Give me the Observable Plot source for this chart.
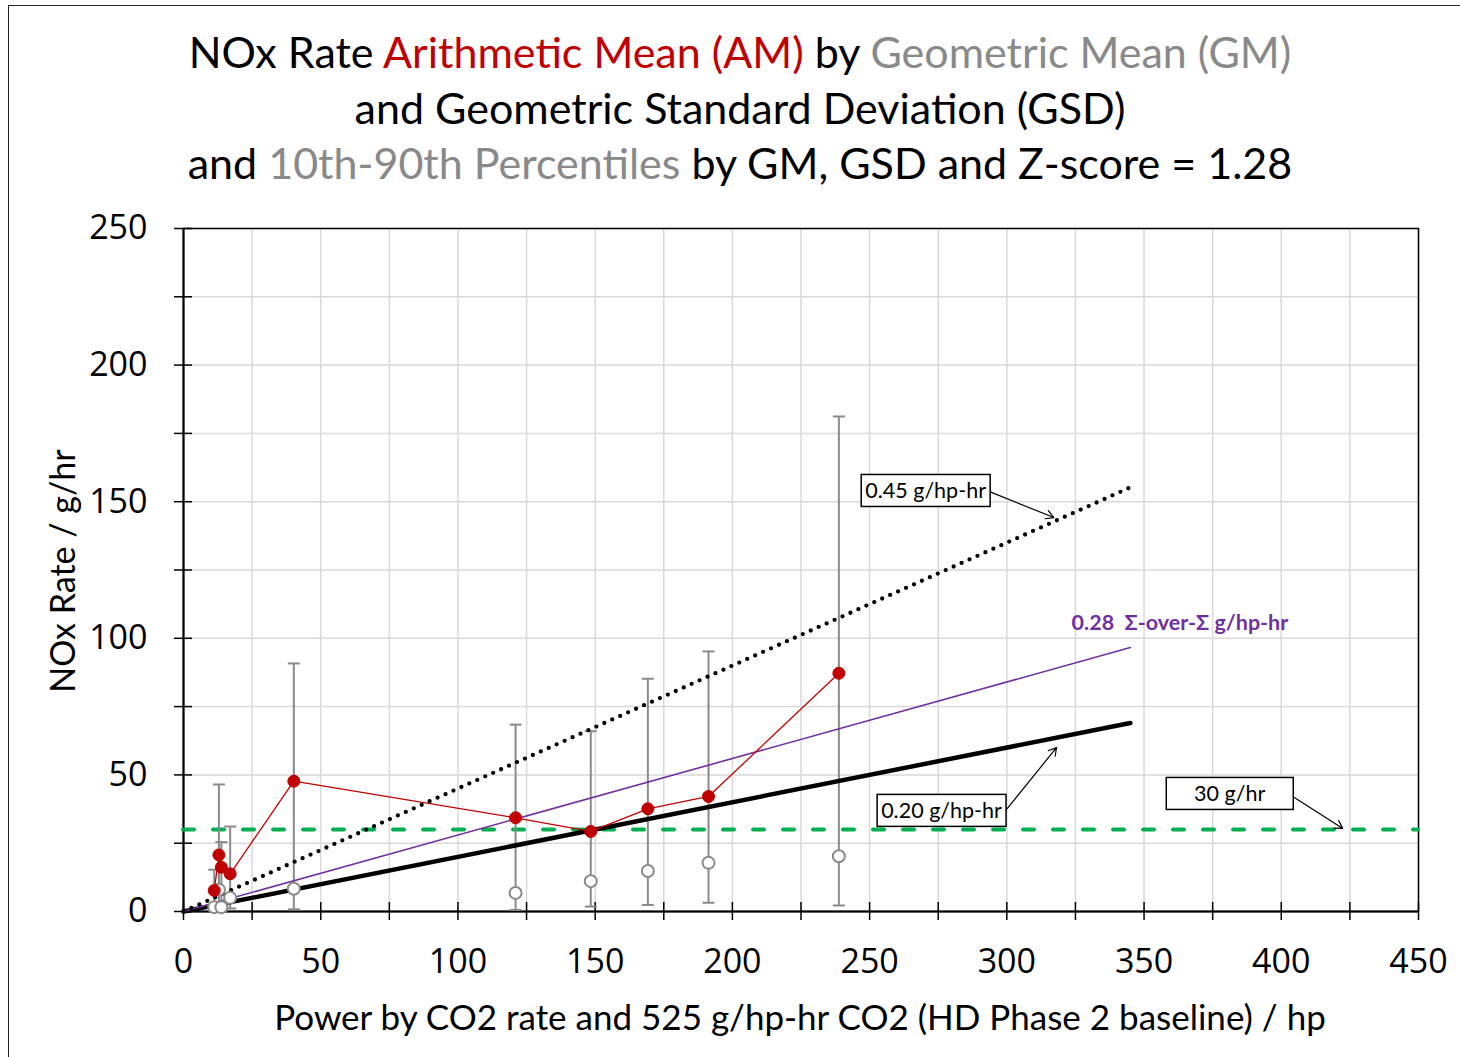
<!DOCTYPE html>
<html>
<head>
<meta charset="utf-8">
<script src="https://cdn.jsdelivr.net/npm/d3@7"></script>
<script src="https://cdn.jsdelivr.net/npm/@observablehq/plot@0.6"></script>
<style>
  html, body { margin: 0; padding: 0; background: #fff; }
  #page { position: relative; width: 1460px; height: 1057px; overflow: hidden; font-family: Lato, "Open Sans", sans-serif; }
  #border { position: absolute; left: 8px; top: 5px; width: 1470px; height: 1070px; border-left: 1.5px solid #222; border-top: 1.5px solid #222; }
  #title { position: absolute; left: 0; top: 24px; width: 1480px; text-align: center; font-size: 43px; line-height: 55.5px; color: #000; }
  #chart { position: absolute; left: 0; top: 190px; }
  #xlabel { position: absolute; left: 0; width: 1600px; top: 995px; text-align: center; font-size: 35px; line-height: 42px; }
  #ylabel { position: absolute; left: 62px; top: 571px; transform: translate(-50%, -50%) rotate(-90deg); font-size: 34px; white-space: nowrap; line-height: 42px; }
  .red { color: #C00000; }
  .gray { color: #898989; }
</style>
</head>
<body>
<div id="page">
  <div id="border"></div>
  <div id="title">
    <div>NOx Rate <span class="red">Arithmetic Mean (AM)</span> by <span class="gray">Geometric Mean (GM)</span></div>
    <div>and Geometric Standard Deviation (GSD)</div>
    <div>and <span class="gray">10th-90th Percentiles</span> by GM, GSD and Z-score = 1.28</div>
  </div>
  <div id="chart"></div>
  <div id="xlabel">Power by CO2 rate and 525 g/hp-hr CO2 (HD Phase 2 baseline) / hp</div>
  <div id="ylabel">NOx Rate / g/hr</div>
</div>
<script>
// ---- data ----
const powerHp   = [11.2, 12.9, 13.8, 17.0, 40.2, 121.0, 148.4, 169.2, 191.3, 238.8];
const amRate    = [7.7, 20.7, 16.2, 13.8, 47.7, 34.3, 29.3, 37.6, 42.1, 87.2];
const gmRate    = [1.6, 8.0, 1.6, 5.0, 8.3, 6.8, 11.1, 14.8, 17.8, 20.2];
const p10Rate   = [0.3, 0.4, 0.3, 1.1, 0.8, 0.6, 1.8, 2.4, 3.2, 2.2];
const p90Rate   = [15.3, 46.5, 25.4, 31.1, 90.8, 68.4, 66.0, 85.2, 95.2, 181.2];

const standardRates = [0.45, 0.28, 0.20];   // g/hp-hr
const standardEndHp = 345;                    // lines drawn from 0 to this power
const flatLimit = 30;                         // g/hr

const xTicksMajor = [0, 50, 100, 150, 200, 250, 300, 350, 400, 450];
const yTicksMajor = [0, 50, 100, 150, 200, 250];
const xTicksMinor = d3.range(0, 451, 25);
const yTicksMinor = d3.range(0, 251, 25);

// annotation boxes: label, box centre (data units), arrow start/end (data units)
const annoText   = ["0.45 g/hp-hr", "0.20 g/hp-hr", "30 g/hr"];
const annoX      = [270.4, 276.2, 381.2];
const annoY      = [153.7, 36.6, 42.8];
const arrowX1    = [293.7, 299.6, 404.2];
const arrowY1    = [153.7, 37.0, 42.1];
const arrowX2    = [317.1, 318.1, 422.4];
const arrowY2    = [144.2, 60.0, 30.4];
const purpleLabel = "0.28  Σ-over-Σ g/hp-hr";
const purpleLabelX = 323.6, purpleLabelY = 105.4;

// ---- tables ----
const points = powerHp.map((hp, i) => ({hp, am: amRate[i], gm: gmRate[i], p10: p10Rate[i], p90: p90Rate[i]}));
const lineFor = r => [0, standardEndHp].map(hp => ({hp, y: r * hp}));
const annos = annoText.map((t, i) => ({t, x: annoX[i], y: annoY[i], x1: arrowX1[i], y1: arrowY1[i], x2: arrowX2[i], y2: arrowY2[i]}));

const cap = { draw(ctx, size) { const r = Math.sqrt(size / Math.PI); ctx.moveTo(-r, 0); ctx.lineTo(r, 0); } };

const grid = "#d9d9d9";
const plot = Plot.plot({
  width: 1460,
  height: 867,
  marginLeft: 183,
  marginRight: 42,
  marginTop: 38,
  marginBottom: 146,
  style: { fontFamily: "'Open Sans', sans-serif", background: "transparent", overflow: "visible" },
  x: { domain: [0, 450] },
  y: { domain: [0, 250] },
  marks: [
    Plot.gridX(xTicksMinor, { stroke: grid, strokeOpacity: 1, strokeWidth: 1.5 }),
    Plot.gridY(yTicksMinor, { stroke: grid, strokeOpacity: 1, strokeWidth: 1.5 }),
    Plot.frame({ stroke: "#000", strokeWidth: 1.5 }),
    Plot.ruleY([0], { stroke: "#000", strokeWidth: 2 }),
    Plot.ruleX([0], { stroke: "#000", strokeWidth: 2 }),
    Plot.axisX({ ticks: xTicksMinor, tickSize: 18, dy: -9, tickFormat: () => "", label: null, strokeWidth: 1.5 }),
    Plot.axisY({ ticks: yTicksMinor, tickSize: 18, dx: 9, tickFormat: () => "", label: null, strokeWidth: 1.5 }),
    Plot.axisX({ ticks: xTicksMajor, tickSize: 0, tickPadding: 37, fontSize: 34, label: null, fill: "#000" }),
    Plot.axisY({ ticks: yTicksMajor, tickSize: 0, tickPadding: 36, fontSize: 34, label: null, fill: "#000" }),
    // 30 g/hr limit
    Plot.ruleY([flatLimit], { stroke: "#00B050", strokeWidth: 4, strokeDasharray: "11,19", strokeLinecap: "round" }),
    // whiskers
    Plot.ruleX(points, { x: "hp", y1: "p10", y2: "p90", stroke: "#8a8a8a", strokeWidth: 2 }),
    Plot.dot(points, { x: "hp", y: "p90", symbol: cap, r: 6, stroke: "#8a8a8a", strokeWidth: 2, fill: "none" }),
    Plot.dot(points, { x: "hp", y: "p10", symbol: cap, r: 6, stroke: "#8a8a8a", strokeWidth: 2, fill: "none" }),
    // standard lines
    Plot.line(lineFor(standardRates[2]), { x: "hp", y: "y", stroke: "#000", strokeWidth: 4.5 }),
    Plot.line(lineFor(standardRates[1]), { x: "hp", y: "y", stroke: "#7030A0", strokeWidth: 1.6 }),
    Plot.line(lineFor(standardRates[0]), { x: "hp", y: "y", stroke: "#000", strokeWidth: 4.3, strokeDasharray: "0,8.7", strokeLinecap: "round" }),
    // AM line and points
    Plot.line(points, { x: "hp", y: "am", stroke: "#C00000", strokeWidth: 1.3 }),
    Plot.dot(points, { x: "hp", y: "gm", r: 6, fill: "#fff", stroke: "#8a8a8a", strokeWidth: 2 }),
    Plot.dot(points, { x: "hp", y: "am", r: 6, fill: "#C00000", stroke: "#C00000", strokeWidth: 1 }),
    // annotations
    Plot.arrow(annos, { x1: "x1", y1: "y1", x2: "x2", y2: "y2", stroke: "#000", strokeWidth: 1.2, headLength: 11, bend: 0 }),
    Plot.text(annos, { x: "x", y: "y", text: "t", fontSize: 21.5, fill: "#000", fontFamily: "Lato, sans-serif", className: "anno-box" }),
    Plot.text([purpleLabel], { x: () => purpleLabelX, y: () => purpleLabelY, text: d => d, textAnchor: "start", fontSize: 21.5, fontWeight: "bold", fill: "#7030A0", fontFamily: "Lato, sans-serif" })
  ]
});
document.getElementById("chart").appendChild(plot);

// draw white boxes behind annotation labels
const svgNS = "http://www.w3.org/2000/svg";
plot.querySelectorAll("g.anno-box text").forEach(t => {
  const b = t.getBBox();
  const w = Math.max(127, b.width + 8), h = 32;
  const cx = b.x + b.width / 2, cy = b.y + b.height / 2;
  const rect = document.createElementNS(svgNS, "rect");
  rect.setAttribute("x", cx - w / 2);
  rect.setAttribute("y", cy - h / 2);
  rect.setAttribute("width", w);
  rect.setAttribute("height", h);
  rect.setAttribute("fill", "#fff");
  rect.setAttribute("stroke", "#000");
  rect.setAttribute("stroke-width", 1.5);
  const tr = t.getAttribute("transform");
  if (tr) rect.setAttribute("transform", tr);
  t.parentNode.insertBefore(rect, t);
});
</script>
</body>
</html>
